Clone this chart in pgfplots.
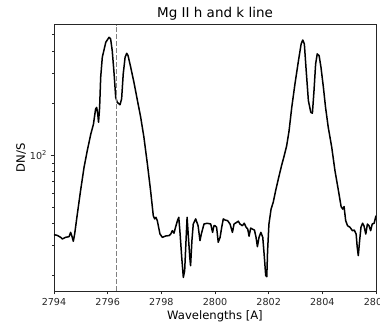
\documentclass[border=0pt]{standalone}
\usepackage{fontspec}
\setmainfont{DejaVu Sans}
\usepackage{pgfplots}
\pgfplotsset{compat=1.18}
\pgfplotsset{/pgf/number format/assume math mode=true, /pgf/number format/1000 sep={}}
\begin{document}
\begin{tikzpicture}
\begin{axis}[
  scale only axis,
  width=322pt, height=266.3pt,
  xmin=2794, xmax=2806,
  ymode=log, ymin=16.19, ymax=572,
  xtick={2794,2796,...,2806},
  ytick={100}, yticklabels={10\textsuperscript{2}},
  minor ytick={20,30,40,50,60,70,80,90,200,300,400,500},
  tick align=outside, tick pos=left,
  major tick length=3.5pt, minor tick length=2pt,
  every tick/.style={black!85, line width=0.7pt},
  minor tick style={line width=0.5pt},
  axis line style={black!85, line width=0.8pt},
  ticklabel style={font=\fontsize{9.6}{11}\selectfont, text=black!85},
  title={Mg II h and k line},
  every axis title/.style={at={(axis description cs:0.5,1)}, anchor=center, yshift=10.5pt, font=\fontsize{13.5}{16}\selectfont},
  xlabel={Wavelengths [A]},
  every axis x label/.style={at={(axis description cs:0.5,0)}, anchor=center, yshift=-25pt, font=\fontsize{11.6}{14}\selectfont},
  ylabel={DN/S},
  every axis y label/.style={at={(axis description cs:-0.1025,0.5)}, anchor=center, rotate=90, font=\fontsize{11.6}{14}\selectfont},
  clip=true,
]
\addplot[black, line width=1.5pt, line join=round] coordinates {
(2794.00,34.4) (2794.12,34.1) (2794.25,33.2) (2794.31,32.5) (2794.43,33.2) (2794.56,33.5)
(2794.62,35.5) (2794.68,33.2) (2794.72,31.5) (2794.77,34.7) (2794.87,45.4) (2794.99,62.0)
(2795.12,84.8) (2795.24,106) (2795.37,132) (2795.47,151) (2795.55,185) (2795.59,189)
(2795.63,173) (2795.66,155) (2795.70,189) (2795.74,283) (2795.80,370) (2795.93,452)
(2796.05,483) (2796.11,473) (2796.17,404) (2796.24,296) (2796.30,216) (2796.36,202)
(2796.46,196) (2796.52,212) (2796.58,296) (2796.65,370) (2796.71,390) (2796.76,378)
(2796.86,323) (2796.98,264) (2797.11,207) (2797.23,166) (2797.35,127) (2797.48,88.7)
(2797.60,62.0) (2797.70,44.4) (2797.75,42.5) (2797.80,43.4) (2797.85,41.5) (2797.95,34.7)
(2798.04,33.2) (2798.16,33.8) (2798.29,34.0) (2798.35,34.7) (2798.41,36.3) (2798.47,35.1)
(2798.53,38.0) (2798.60,41.5) (2798.65,43.4) (2798.70,34.7) (2798.76,25.4) (2798.82,19.4)
(2798.87,21.3) (2798.92,31.8) (2798.96,43.4) (2799.01,33.2) (2799.06,25.4) (2799.09,22.7)
(2799.14,31.8) (2799.19,39.7) (2799.28,42.5) (2799.37,38.8) (2799.44,31.8) (2799.49,34.7)
(2799.59,39.7) (2799.71,40.1) (2799.84,39.7) (2799.91,35.5) (2799.96,38.8)
(2800.00,38.8) (2800.06,38.0) (2800.12,31.1) (2800.19,33.2) (2800.25,38.0) (2800.31,42.5)
(2800.37,41.9) (2800.47,41.5) (2800.56,39.7) (2800.65,35.5) (2800.71,39.7) (2800.81,40.6)
(2800.87,41.2) (2800.93,39.7) (2801.02,38.8) (2801.09,40.1) (2801.16,38.0) (2801.22,37.1)
(2801.27,33.7) (2801.33,37.6) (2801.39,37.1) (2801.47,36.6) (2801.53,33.2) (2801.58,29.3)
(2801.64,33.2) (2801.71,35.5) (2801.78,33.2) (2801.84,25.4) (2801.89,19.9) (2801.93,19.6)
(2801.96,27.8) (2802.01,39.7) (2802.09,48.5) (2802.17,53.1) (2802.26,62.0) (2802.36,72.5)
(2802.48,86.7) (2802.58,99.1) (2802.67,113) (2802.76,138) (2802.86,189) (2802.98,259)
(2803.11,353) (2803.21,442) (2803.27,466) (2803.33,442) (2803.39,323) (2803.48,207)
(2803.57,177) (2803.63,175) (2803.69,237) (2803.75,338) (2803.81,387) (2803.88,378)
(2803.95,323) (2804.04,247) (2804.12,189) (2804.22,145) (2804.35,111) (2804.47,81.1)
(2804.60,62.0) (2804.70,50.1) (2804.76,48.5) (2804.81,50.1) (2804.87,41.5) (2804.94,38.8)
(2805.03,38.0) (2805.12,36.3) (2805.19,36.6) (2805.26,34.7) (2805.30,29.1) (2805.34,26.0)
(2805.39,31.8) (2805.44,38.0) (2805.50,40.1) (2805.55,38.8) (2805.62,34.7) (2805.68,39.7)
(2805.74,38.8) (2805.80,36.3) (2805.86,39.7) (2805.93,40.1) (2806.00,44.4)
};
\addplot[gray, line width=1.1pt, dash pattern=on 5pt off 2pt] coordinates {(2796.33,16.19) (2796.33,572)};
\coordinate (bl) at (rel axis cs:0,0);
\coordinate (tr) at (rel axis cs:1,1);
\end{axis}
\pgfresetboundingbox
\path ([xshift=-54pt,yshift=-35pt]bl) rectangle ([xshift=4pt,yshift=24.7pt]tr);
\end{tikzpicture}
\end{document}
